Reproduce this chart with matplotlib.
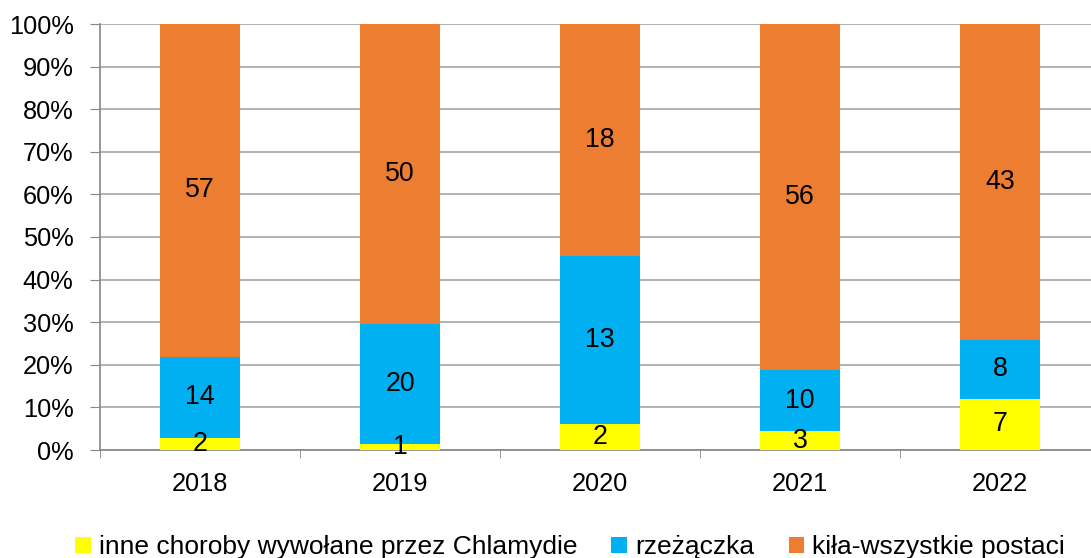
import matplotlib
matplotlib.use("Agg")
import matplotlib.pyplot as plt
import numpy as np
from matplotlib.patches import Patch

plt.rcParams['font.family'] = ['Liberation Sans', 'DejaVu Sans']

years = ["2018", "2019", "2020", "2021", "2022"]
series_names = ["inne choroby wywołane przez Chlamydie", "rzeżączka", "kiła-wszystkie postaci"]
chlamydie = [2, 1, 2, 3, 7]
rzezaczka = [14, 20, 13, 10, 8]
kila = [57, 50, 18, 56, 43]
colors = ["#FFFF00", "#00B0F0", "#ED7D31"]

FS = 18.3
FS_LABEL = 19.3

data = np.array([chlamydie, rzezaczka, kila], dtype=float)
totals = data.sum(axis=0)
pct = data / totals * 100

fig = plt.figure(figsize=(10.91, 5.58), dpi=100)
ax = fig.add_axes([100/1091, (558-450)/558, 1000/1091, 426/558])

x = np.arange(len(years))
bottom = np.zeros(len(years))
for i in range(3):
    ax.bar(x, pct[i], 0.4, bottom=bottom, color=colors[i], zorder=3)
    for j in range(len(years)):
        ax.text(x[j], bottom[j] + pct[i][j] / 2, f"{int(data[i][j])}",
                ha='center', va='center', fontsize=FS_LABEL, color='black', zorder=4)
    bottom += pct[i]

ax.set_xlim(-0.5, 4.5)
ax.set_ylim(0, 100)
ax.set_yticks(np.arange(0, 101, 10))
ax.set_yticklabels([f"{v}%" for v in range(0, 101, 10)], fontsize=FS)
ax.yaxis.grid(True, color="#A6A6A6", linewidth=1.2, zorder=0)
ax.set_xticks(x)
ax.set_xticklabels(years, fontsize=FS)
ax.tick_params(axis='x', which='major', length=0, pad=16)
ax.set_xticks(np.arange(-0.5, 4.6, 1), minor=True)
ax.tick_params(axis='x', which='minor', length=6, color="#868686", direction='out')
ax.tick_params(axis='y', length=7, color="#868686", pad=12)
for s in ['top', 'right']:
    ax.spines[s].set_visible(False)
for s in ['left', 'bottom']:
    ax.spines[s].set_color("#868686")
    ax.spines[s].set_linewidth(1.2)

handles = [Patch(facecolor=c, edgecolor='none') for c in colors]
fig.legend(handles, series_names, loc='lower center', ncol=3, frameon=False,
           fontsize=19, bbox_to_anchor=(0.5224, -0.045), handlelength=0.6, handleheight=0.6,
           handletextpad=0.3, columnspacing=1.3)

fig.savefig("out.png", dpi=100)
